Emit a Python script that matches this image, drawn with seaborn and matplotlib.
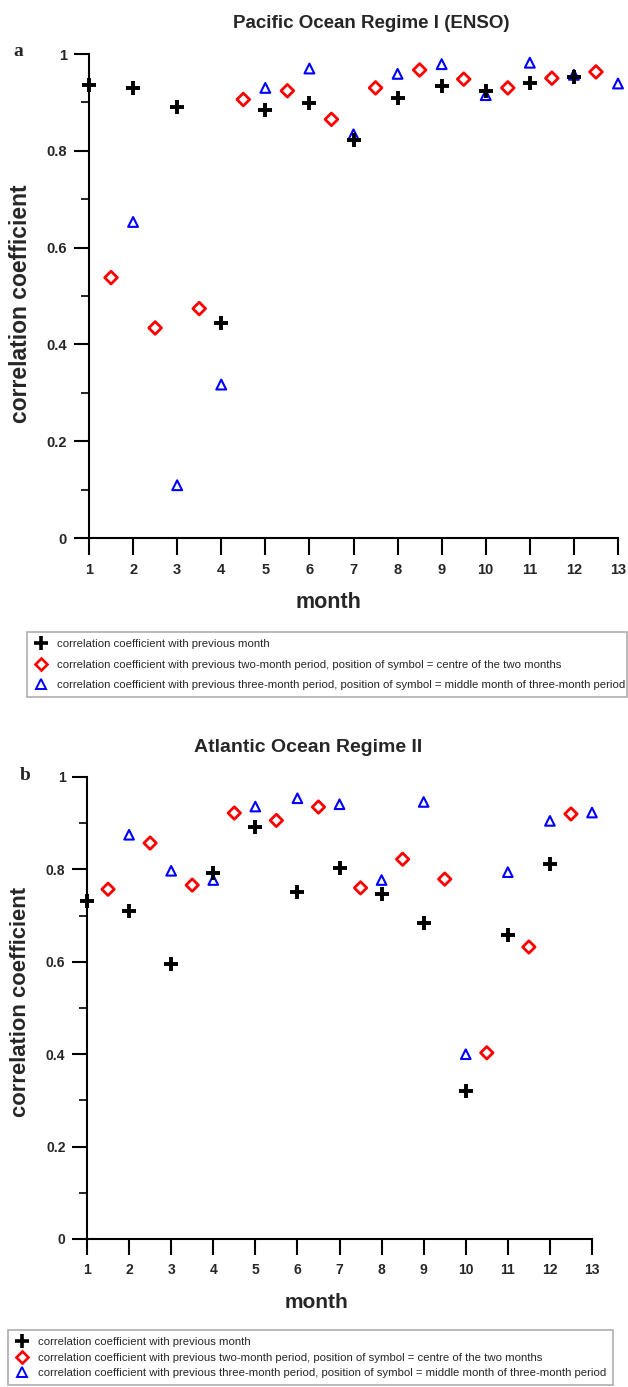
import numpy as np
import pandas as pd
import seaborn as sns
import matplotlib
matplotlib.use('Agg')
import matplotlib.pyplot as plt
from matplotlib.lines import Line2D
from matplotlib.ticker import MultipleLocator, FixedLocator, FuncFormatter

### DATA

# x positions: previous month (1..12), two-month centre (1.5..12.5), three-month middle (2..13)
months_prev = [1, 2, 3, 4, 5, 6, 7, 8, 9, 10, 11, 12]
months_two = [1.5, 2.5, 3.5, 4.5, 5.5, 6.5, 7.5, 8.5, 9.5, 10.5, 11.5, 12.5]
months_three = [2, 3, 4, 5, 6, 7, 8, 9, 10, 11, 12, 13]

# Pacific Ocean Regime I (ENSO)
pac_prev = [0.936, 0.930, 0.891, 0.445, 0.884, 0.899, 0.823, 0.910, 0.934, 0.924, 0.941, 0.952]
pac_two = [0.538, 0.434, 0.474, 0.906, 0.924, 0.865, 0.930, 0.967, 0.948, 0.930, 0.950, 0.963]
pac_three = [0.653, 0.109, 0.317, 0.930, 0.970, 0.834, 0.959, 0.979, 0.915, 0.982, 0.957, 0.939]

# Atlantic Ocean Regime II
atl_prev = [0.732, 0.709, 0.596, 0.793, 0.891, 0.751, 0.804, 0.746, 0.683, 0.321, 0.657, 0.811]
atl_two = [0.757, 0.857, 0.766, 0.922, 0.906, 0.935, 0.760, 0.822, 0.779, 0.403, 0.632, 0.920]
atl_three = [0.875, 0.797, 0.777, 0.936, 0.954, 0.941, 0.777, 0.946, 0.400, 0.794, 0.905, 0.923]

month_ticks = list(range(1, 14))
legend_labels = ['correlation coefficient with previous month',
                 'correlation coefficient with previous two-month period, position of symbol = centre of the two months',
                 'correlation coefficient with previous three-month period, position of symbol = middle month of three-month period']

### STYLE
sns.set_style('ticks')
plt.rcParams['font.family'] = ['Liberation Sans', 'DejaVu Sans']

W, H = 628, 1387
fig = plt.figure(figsize=(W / 100, H / 100), dpi=100)


def px_axes(left, right, top, bottom):
    # axes rectangle from pixel coordinates
    return fig.add_axes([left / W, 1 - bottom / H, (right - left) / W, (bottom - top) / H])


### FUNCTIONS

def draw_panel(ax, prev, two, three, scale=1.0):
    sns.scatterplot(x=months_prev, y=prev, marker='+', s=110 * scale, color='black',
                    linewidth=2.8, ax=ax, clip_on=False, zorder=3)
    sns.scatterplot(x=months_two, y=two, marker='D', s=42 * scale, color='red',
                    facecolors='none', edgecolor='red', linewidth=2.0, ax=ax, clip_on=False, zorder=3)
    sns.scatterplot(x=months_three, y=three, marker='^', s=50 * scale, color='blue',
                    facecolors='none', edgecolor='blue', linewidth=1.5, ax=ax, clip_on=False, zorder=2)

    ax.set_xlim(1, 13)
    ax.set_ylim(0, 1)
    sns.despine(ax=ax)
    for side in ['left', 'bottom']:
        ax.spines[side].set_linewidth(1.5)
        ax.spines[side].set_color('black')

    ax.xaxis.set_major_locator(FixedLocator(month_ticks))
    ax.yaxis.set_major_locator(MultipleLocator(0.2))
    ax.yaxis.set_minor_locator(MultipleLocator(0.1))
    ax.yaxis.set_major_formatter(FuncFormatter(lambda v, p: '{:g}'.format(round(v, 1))))
    ax.tick_params(axis='x', which='major', length=12 * scale, width=1.5, pad=6,
                   labelsize=10.5 * scale, direction='out', color='black')
    ax.tick_params(axis='y', which='major', length=11 * scale, width=1.5, pad=5,
                   labelsize=10.5 * scale, direction='out', color='black')
    ax.tick_params(axis='y', which='minor', length=6 * scale, width=1.2, direction='out', color='black')
    for lab in ax.get_xticklabels() + ax.get_yticklabels():
        lab.set_fontweight('bold')


def add_legend(x0, top, width, fontsize, spacing):
    handles = [
        Line2D([], [], ls='none', marker='+', color='black', markersize=9.5, markeredgewidth=2.6),
        Line2D([], [], ls='none', marker='D', markerfacecolor='none', markeredgecolor='red',
               markersize=6, markeredgewidth=1.9),
        Line2D([], [], ls='none', marker='^', markerfacecolor='none', markeredgecolor='blue',
               markersize=6.5, markeredgewidth=1.4),
    ]
    leg = fig.legend(handles, legend_labels, loc='upper left',
                     bbox_to_anchor=(x0 / W, 1 - top / H, width / W, 0), mode='expand',
                     fontsize=fontsize, frameon=True, fancybox=False, borderaxespad=0,
                     handlelength=1.2, handletextpad=0.8, labelspacing=spacing,
                     borderpad=0.6)
    leg.get_frame().set_edgecolor('#999999')
    leg.get_frame().set_linewidth(1.2)


### PANEL a
ax_a = px_axes(89, 618, 54, 538)
draw_panel(ax_a, pac_prev, pac_two, pac_three)
ax_a.set_xlabel('month', fontsize=15.5, fontweight='bold', va='center')
ax_a.xaxis.set_label_coords((328 - 89) / 529, (538 - 603) / 484)
ax_a.set_ylabel('correlation coefficient', fontsize=16.5, fontweight='bold', va='center')
ax_a.yaxis.set_label_coords((21 - 89) / 529, (538 - 304) / 484)
fig.text(371 / W, 1 - 23 / H, 'Pacific Ocean Regime I (ENSO)', ha='center', va='center',
         fontsize=13.5, fontweight='bold')
fig.text(13 / W, 1 - 52 / H, 'a', ha='left', va='center', fontsize=14, fontweight='bold',
         family=['Liberation Serif', 'DejaVu Serif'])
add_legend(27, 632, 600, 8.2, 0.95)

### PANEL b
ax_b = px_axes(87, 592, 777, 1239)
draw_panel(ax_b, atl_prev, atl_two, atl_three, scale=0.955)
ax_b.set_xlabel('month', fontsize=15, fontweight='bold', va='center')
ax_b.xaxis.set_label_coords((316 - 87) / 505, (1239 - 1302) / 462)
ax_b.set_ylabel('correlation coefficient', fontsize=15.8, fontweight='bold', va='center')
ax_b.yaxis.set_label_coords((21 - 87) / 505, (1239 - 1002) / 462)
fig.text(308 / W, 1 - 748 / H, 'Atlantic Ocean Regime II', ha='center', va='center',
         fontsize=14, fontweight='bold')
fig.text(20 / W, 1 - 775 / H, 'b', ha='left', va='center', fontsize=14, fontweight='bold',
         family=['Liberation Serif', 'DejaVu Serif'])
add_legend(8, 1330, 605, 8.2, 0.5)

fig.savefig('out.png', dpi=100)
